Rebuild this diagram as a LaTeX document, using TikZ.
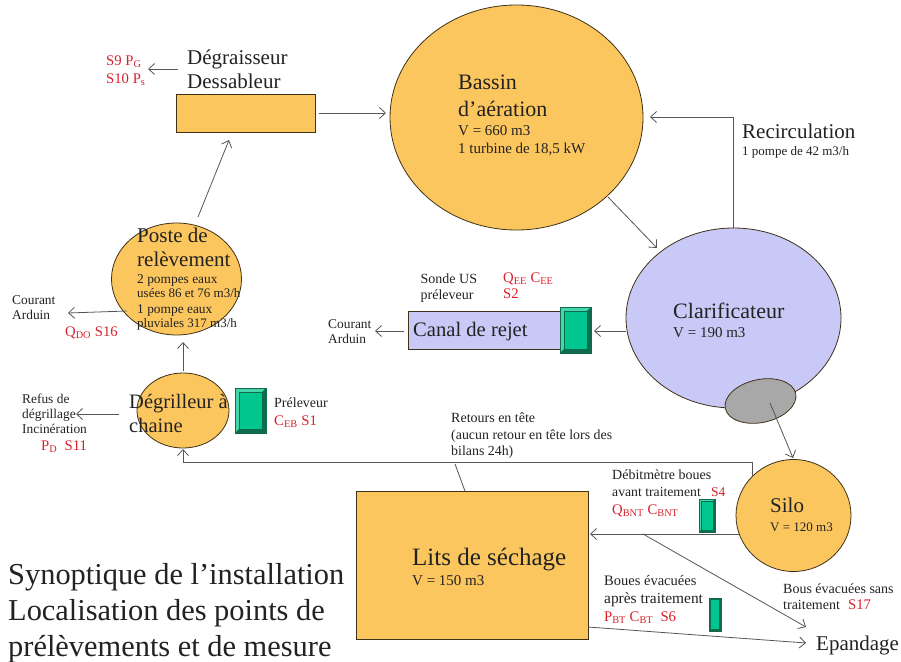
\documentclass[tikz,border=0pt]{standalone}
\usepackage{fontspec}
\setmainfont{Liberation Serif}
\usetikzlibrary{arrows.meta}
\definecolor{orangefill}{HTML}{FCC65F}
\definecolor{bluefill}{HTML}{C9C9F7}
\definecolor{greyfill}{HTML}{A8A8A8}
\definecolor{greenfill}{HTML}{00C78F}
\definecolor{greendark}{HTML}{0E6B4C}
\definecolor{greenlight}{HTML}{45D6AE}
\definecolor{redtxt}{HTML}{D8202A}
\definecolor{inktxt}{HTML}{222222}
\definecolor{linecol}{HTML}{555555}
\tikzset{
  tank/.style={draw=black!75!orangefill,line width=0.8pt},
  flow/.style={draw=linecol,line width=0.8pt,-{Straight Barb[length=6pt,width=11pt,line width=0.8pt]}},
  plain/.style={draw=linecol,line width=0.8pt},
  txt/.style={inner sep=0pt,anchor=base west,align=left,text=inktxt},
  big/.style={txt,font=\fontsize{21}{24}\selectfont},
  sized/.style={txt,font=\fontsize{#1}{16}\selectfont},
  mid/.style={sized=13.4},
  red12/.style={txt,text=redtxt,font=\fontsize{14.7}{16}\selectfont},
}
\newcommand{\sbs}[1]{\textsubscript{#1}}
\begin{document}
\begin{tikzpicture}[x=1pt,y=-1pt]
\useasboundingbox (0,0) rectangle (901,661);
% tanks
\draw[tank,fill=orangefill] (516.5,117.5) ellipse [x radius=126.5,y radius=112.5];
\draw[tank,fill=bluefill] (733.5,318) ellipse [x radius=107.5,y radius=90];
\draw[tank,fill=greyfill,rotate around={12:(760.5,401)}] (760.5,401) ellipse [x radius=36,y radius=21.5];
\draw[tank,fill=orangefill] (793.5,515.5) ellipse [x radius=57.5,y radius=56];
\draw[tank,fill=orangefill] (176.5,279) ellipse [x radius=65,y radius=56];
\draw[tank,fill=orangefill] (183,410.5) ellipse [x radius=46,y radius=37.5];
\node[tank,fill=orangefill,minimum width=139pt,minimum height=38pt,inner sep=0pt] (degr) at (245.5,113) {};
\node[tank,fill=orangefill,minimum width=232pt,minimum height=148pt,inner sep=0pt] (lits) at (472,565) {};
\node[tank,fill=bluefill,minimum width=152pt,minimum height=38pt,inner sep=0pt] (canal) at (484,330) {};
% sensors
\foreach \xa/\ya/\xb/\yb/\bev in {235/388/266/433/4,560/307/591/353/4,699/499/715/532/2,709/598/721/631/1.5}{
  \fill[greenfill] (\xa,\ya) rectangle (\xb,\yb);
  \fill[greenlight] (\xa,\ya) -- (\xb,\ya) -- (\xb-\bev,\ya+\bev) -- (\xa+\bev,\ya+\bev) -- (\xa+\bev,\yb-\bev) -- (\xa,\yb) -- cycle;
  \fill[greendark] (\xb,\yb) -- (\xa,\yb) -- (\xa+\bev,\yb-\bev) -- (\xb-\bev,\yb-\bev) -- (\xb-\bev,\ya+\bev) -- (\xb,\ya) -- cycle;
  \draw[greendark,line width=0.6pt] (\xa,\ya) rectangle (\xb,\yb);
  \draw[greendark,line width=0.4pt] (\xa+\bev,\ya+\bev) rectangle (\xb-\bev,\yb-\bev);
}
% connector ends
\coordinate (a1s) at (178,69); \coordinate (a1e) at (148,69);
\coordinate (a2s) at (319,113); \coordinate (a2e) at (386,113);
\coordinate (a3s) at (198,217); \coordinate (a3e) at (229,140);
\coordinate (a4s) at (127,311); \coordinate (a4e) at (68,313);
\coordinate (a5s) at (183,371); \coordinate (a5e) at (183,342);
\coordinate (a6s) at (119,414); \coordinate (a6e) at (76,414);
\coordinate (r1) at (752,477); \coordinate (r2) at (752,462); \coordinate (r3) at (183,462); \coordinate (r4) at (183,449);
\coordinate (b1) at (455,464); \coordinate (b2) at (465,491);
\coordinate (a8s) at (608,197); \coordinate (a8e) at (657,248);
\coordinate (c1) at (733,228); \coordinate (c2) at (733,117); \coordinate (c3) at (650,117);
\coordinate (a10s) at (626,331); \coordinate (a10e) at (594,331);
\coordinate (a11s) at (404,331); \coordinate (a11e) at (375,331);
\coordinate (a12s) at (770,403); \coordinate (a12e) at (793,458);
\coordinate (a13s) at (739,534); \coordinate (a13e) at (590,534);
\coordinate (a14s) at (643,534); \coordinate (a14e) at (806,627);
\coordinate (a15s) at (588,627); \coordinate (a15e) at (806,643);
\draw[flow] (a1s) -- (a1e);
\draw[flow] (a2s) -- (a2e);
\draw[flow] (a3s) -- (a3e);
\draw[flow] (a4s) -- (a4e);
\draw[flow] (a5s) -- (a5e);
\draw[flow] (a6s) -- (a6e);
\draw[flow] (r1) -- (r2) -- (r3) -- (r4);
\draw[plain] (b1) -- (b2);
\draw[flow] (a8s) -- (a8e);
\draw[flow] (c1) -- (c2) -- (c3);
\draw[flow] (a10s) -- (a10e);
\draw[flow] (a11s) -- (a11e);
\draw[flow] (a12s) -- (a12e);
\draw[flow] (a13s) -- (a13e);
\draw[flow] (a14s) -- (a14e);
\draw[flow] (a15s) -- (a15e);
% texts
\node[red12] (t1) at (106,65) {S9 P\sbs{G}};
\node[red12] (t2) at (106,83) {S10 P\sbs{s}};
\node[big] (t3) at (187,64) {Dégraisseur};
\node[big] (t4) at (187,88) {Dessableur};
\node[sized=22] (t5) at (458,89) {Bassin};
\node[sized=22] (t6) at (458,116) {d’aération};
\node[sized=15] (t7) at (458,135) {V = 660 m3};
\node[sized=15] (t8) at (458,153) {1 turbine de 18,5 kW};
\node[big] (t9) at (742,138) {Recirculation};
\node[sized=13] (t10) at (742,155) {1 pompe de 42 m3/h};
\node[big] (t11) at (137,242) {Poste de};
\node[big] (t12) at (137,266) {relèvement};
\node[mid] (t13) at (137,283) {2 pompes eaux};
\node[sized=13] (t14) at (137,297) {usées 86 et 76 m3/h};
\node[mid] (t15) at (137,313) {1 pompe eaux};
\node[sized=13] (t16) at (137,327) {pluviales 317 m3/h};
\node[mid] (t17) at (12,304) {Courant};
\node[mid] (t18) at (12,319) {Arduin};
\node[red12] (t19) at (65,336) {Q\sbs{DO} S16};
\node[mid] (t20) at (328,328) {Courant};
\node[mid] (t21) at (328,343) {Arduin};
\node[sized=14] (t22) at (420.5,283) {Sonde US};
\node[sized=14] (t23) at (420.5,299) {préleveur};
\node[red12] (t24) at (503,282) {Q\sbs{EE} C\sbs{EE}};
\node[red12] (t25) at (503,298) {S2};
\node[sized=20.6] (t26) at (413,336) {Canal de rejet};
\node[sized=22] (t27) at (673,318) {Clarificateur};
\node[sized=15] (t28) at (673,337) {V = 190 m3};
\node[sized=20.5] (t29) at (129,408) {Dégrilleur à};
\node[sized=20.5] (t30) at (129,432) {chaine};
\node[mid] (t31) at (22,403) {Refus de};
\node[mid] (t32) at (22,418) {dégrillage};
\node[mid] (t33) at (22,433) {Incinération};
\node[red12] (t34) at (41,450) {P\sbs{D}\ \ S11};
\node[sized=14] (t35) at (274,407) {Préleveur};
\node[red12] (t36) at (274,425) {C\sbs{EB} S1};
\node[sized=14] (t37) at (451,422) {Retours en tête};
\node[sized=13.9] (t38) at (451,439) {(aucun retour en tête lors des};
\node[sized=13.9] (t39) at (451,455) {bilans 24h)};
\node[sized=14] (t40) at (612,479) {Débitmètre boues};
\node[sized=13.7] (t41) at (612,496) {avant traitement};
\node[sized=13.5,text=redtxt] (t42) at (711,496) {S4};
\node[red12] (t43) at (612,514) {Q\sbs{BNT} C\sbs{BNT}};
\node[big] (t44) at (770,512) {Silo};
\node[sized=13] (t45) at (770,531) {V = 120 m3};
\node[sized=25] (t46) at (412,565) {Lits de séchage};
\node[sized=15] (t47) at (412,585) {V = 150 m3};
\node[sized=14.5] (t48) at (604,585) {Boues évacuées};
\node[sized=15.4] (t49) at (604,603) {après traitement};
\node[red12] (t50) at (604,621) {P\sbs{BT} C\sbs{BT}\ \ S6};
\node[sized=14] (t51) at (783,593) {Bous évacuées sans};
\node[sized=14] (t52) at (783,609) {traitement};
\node[red12] (t53) at (848,609) {S17};
\node[big] (t54) at (816,650) {Epandage};
\node[sized=30.4] (t55) at (8,584) {Synoptique de l’installation};
\node[sized=30.4] (t56) at (8,620) {Localisation des points de};
\node[sized=30.4] (t57) at (8,656) {prélèvements et de mesure};
\end{tikzpicture}
\end{document}
